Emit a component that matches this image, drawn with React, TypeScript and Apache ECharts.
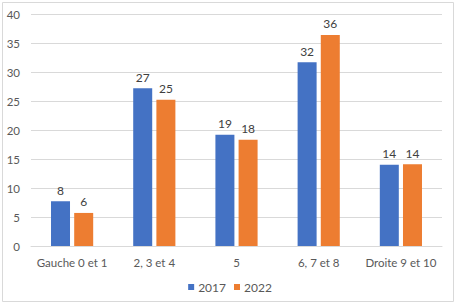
import React, { useEffect, useRef } from "react";
import * as echarts from "echarts";

const categories = ["Gauche 0 et 1", "2, 3 et 4", "5", "6, 7 et 8", "Droite 9 et 10"];
const values2017 = [7.7, 27.2, 19.2, 31.7, 14.0];
const values2022 = [5.7, 25.2, 18.3, 36.4, 14.1];
const seriesNames = ["2017", "2022"];

const FONT = "Lato";

export default function App() {
  const ref = useRef<HTMLDivElement>(null);
  useEffect(() => {
    if (!ref.current) return;
    const chart = echarts.init(ref.current, null, { renderer: "svg" });
    const labelCfg = {
      show: true,
      position: "top",
      distance: 5,
      fontFamily: FONT,
      fontSize: 12,
      color: "#404040",
      formatter: (p: any) => String(Math.round(p.value)),
    };
    chart.setOption({
      animation: false,
      backgroundColor: "#ffffff",
      textStyle: { fontFamily: FONT },
      graphic: [
        {
          type: "rect",
          shape: { x: 2.5, y: 2.5, width: 451, height: 299 },
          style: { fill: "none", stroke: "#D9D9D9", lineWidth: 1 },
          silent: true,
        },
      ],
      grid: { left: 31, right: 18, top: 14, bottom: 59, containLabel: false },
      legend: {
        data: seriesNames,
        left: "center",
        top: 276,
        icon: "rect",
        itemWidth: 6,
        itemHeight: 6,
        itemGap: 8,
        textStyle: { fontFamily: FONT, fontSize: 12, color: "#595959", padding: [0, 0, 0, -1] },
      },
      xAxis: {
        type: "category",
        data: categories,
        axisLine: { show: true, lineStyle: { color: "#D9D9D9" } },
        axisTick: { show: false },
        axisLabel: { interval: 0, fontFamily: FONT, fontSize: 11.5, color: "#595959", margin: 10 },
      },
      yAxis: {
        type: "value",
        min: 0,
        max: 40,
        interval: 5,
        axisLine: { show: false },
        axisTick: { show: false },
        axisLabel: { fontFamily: FONT, fontSize: 11.5, color: "#595959", margin: 11 },
        splitLine: { lineStyle: { color: "#D9D9D9" } },
      },
      series: [
        {
          name: seriesNames[0],
          type: "bar",
          data: values2017,
          barWidth: 19,
          barGap: "22%",
          itemStyle: { color: "#4472C4" },
          label: labelCfg,
        },
        {
          name: seriesNames[1],
          type: "bar",
          data: values2022,
          barWidth: 19,
          barGap: "22%",
          itemStyle: { color: "#ED7D31" },
          label: labelCfg,
        },
      ],
    });
    return () => chart.dispose();
  }, []);
  return (
    <div
      ref={ref}
      style={{ position: "fixed", left: 0, top: 0, width: 460, height: 305 }}
    />
  );
}
